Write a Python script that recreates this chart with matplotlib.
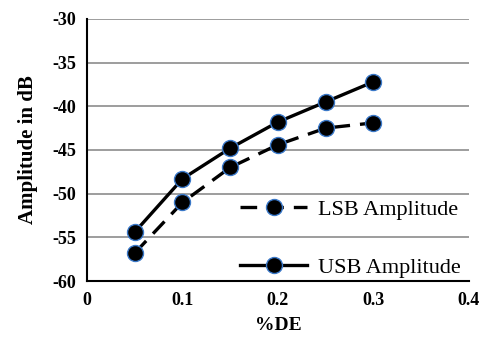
import matplotlib
matplotlib.use("Agg")
import matplotlib.pyplot as plt

x_de = [0.05, 0.10, 0.15, 0.20, 0.25, 0.30]
lsb_amp = [-56.8, -51.0, -47.0, -44.4, -42.5, -41.9]
usb_amp = [-54.4, -48.3, -44.8, -41.8, -39.5, -37.2]
x_ticks = [0, 0.1, 0.2, 0.3, 0.4]
x_ticklabels = ["0", "0.1", "0.2", "0.3", "0.4"]
y_ticks = [-60, -55, -50, -45, -40, -35, -30]

plt.rcParams['font.family'] = ['Liberation Serif', 'DejaVu Serif']
plt.rcParams['axes.unicode_minus'] = False

fig = plt.figure(figsize=(4.86, 3.4), dpi=100)
ax = fig.add_axes([0.179, 0.1735, 0.786, 0.771])

mk = dict(marker='o', markersize=11.5, markerfacecolor='black',
          markeredgecolor='#3a78c8', markeredgewidth=1.0)
l1, = ax.plot(x_de, lsb_amp, color='black', linewidth=2.4, linestyle=(0, (5, 3)),
              label='LSB Amplitude', zorder=3, **mk)
l2, = ax.plot(x_de, usb_amp, color='black', linewidth=2.4, linestyle='-',
              label='USB Amplitude', zorder=3, **mk)

ax.set_xlim(0, 0.4)
ax.set_ylim(-60, -30)
ax.set_xticks(x_ticks)
ax.set_xticklabels(x_ticklabels)
ax.set_yticks(y_ticks)
ax.yaxis.grid(True, color='#8c8c8c', linewidth=1.2)
ax.set_axisbelow(True)
for s in ['top', 'right']:
    ax.spines[s].set_visible(False)
for s in ['left', 'bottom']:
    ax.spines[s].set_color('black')
    ax.spines[s].set_linewidth(1.5)
ax.tick_params(length=0, labelsize=13, pad=8)
for lab in ax.get_xticklabels() + ax.get_yticklabels():
    lab.set_fontweight('bold')

ax.set_xlabel('%DE', fontsize=14, fontweight='bold', labelpad=6)
ax.set_ylabel('Amplitude in dB', fontsize=15, fontweight='bold', labelpad=10)

leg = ax.legend(handles=[l1, l2], loc='lower right', bbox_to_anchor=(0.99, -0.005),
                frameon=False, fontsize=16, handlelength=3.0, labelspacing=1.7,
                handletextpad=0.5, borderaxespad=0.0, borderpad=0.2)

fig.savefig('out.png', dpi=100)
